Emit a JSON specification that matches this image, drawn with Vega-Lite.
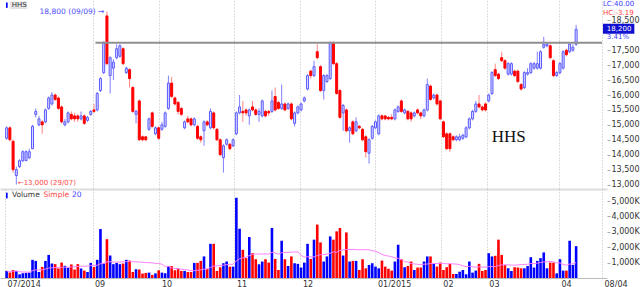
{
"$schema": "https://vega.github.io/schema/vega-lite/v6.json",
"padding": 0,
"spacing": 0,
"background": "white",
"config": {"view": {"stroke": null}, "font": "DejaVu Sans", "axis": {"labelFont": "DejaVu Sans"}},
"datasets": {"d": [
{"i":0,"o":14550,"h":14950,"l":14500,"c":14900,"v":460000},
{"i":1,"o":14900,"h":14950,"l":14450,"c":14500,"v":350000},
{"i":2,"o":14450,"h":14500,"l":13400,"c":13500,"v":520000},
{"i":3,"o":13300,"h":13600,"l":13000,"c":13500,"v":460000},
{"i":4,"o":13600,"h":13850,"l":13550,"c":13800,"v":240000},
{"i":5,"o":13800,"h":14150,"l":13750,"c":14100,"v":310000},
{"i":6,"o":13800,"h":14150,"l":13800,"c":14100,"v":330000},
{"i":7,"o":13900,"h":14200,"l":13850,"c":14100,"v":350000},
{"i":8,"o":14200,"h":15000,"l":14200,"c":14950,"v":1180000},
{"i":9,"o":15350,"h":15550,"l":15250,"c":15450,"v":1110000},
{"i":10,"o":15000,"h":15300,"l":14950,"c":15200,"v":390000},
{"i":11,"o":15100,"h":15150,"l":14700,"c":15000,"v":720000},
{"i":12,"o":15100,"h":15550,"l":15050,"c":15500,"v":1110000},
{"i":13,"o":15550,"h":15950,"l":15500,"c":15900,"v":1500000},
{"i":14,"o":15700,"h":16100,"l":15650,"c":16000,"v":940000},
{"i":15,"o":16000,"h":16050,"l":15800,"c":15850,"v":900000},
{"i":16,"o":15900,"h":15950,"l":15500,"c":15550,"v":620000},
{"i":17,"o":15600,"h":15650,"l":15050,"c":15100,"v":1000000},
{"i":18,"o":15000,"h":15200,"l":14950,"c":15100,"v":790000},
{"i":19,"o":15100,"h":15450,"l":15050,"c":15400,"v":680000},
{"i":20,"o":15350,"h":15450,"l":15150,"c":15200,"v":880000},
{"i":21,"o":15300,"h":15400,"l":15100,"c":15200,"v":550000},
{"i":22,"o":15300,"h":15350,"l":15100,"c":15200,"v":900000},
{"i":23,"o":15200,"h":15450,"l":15150,"c":15300,"v":620000},
{"i":24,"o":15300,"h":15350,"l":15000,"c":15050,"v":480000},
{"i":25,"o":15150,"h":15300,"l":15100,"c":15250,"v":390000},
{"i":26,"o":15350,"h":15500,"l":15300,"c":15450,"v":980000},
{"i":27,"o":15500,"h":15700,"l":15400,"c":15450,"v":720000},
{"i":28,"o":15500,"h":16100,"l":15450,"c":16050,"v":1180000},
{"i":29,"o":16150,"h":16600,"l":16100,"c":16550,"v":3180000},
{"i":30,"o":16750,"h":17800,"l":16700,"c":17750,"v":940000},
{"i":31,"o":18650,"h":18800,"l":17000,"c":17050,"v":2520000},
{"i":32,"o":16650,"h":17300,"l":16050,"c":17250,"v":1460000},
{"i":33,"o":16900,"h":17200,"l":16500,"c":17100,"v":900000},
{"i":34,"o":17250,"h":17700,"l":17200,"c":17550,"v":980000},
{"i":35,"o":17300,"h":17700,"l":17250,"c":17650,"v":900000},
{"i":36,"o":17550,"h":17600,"l":17000,"c":17050,"v":940000},
{"i":37,"o":16750,"h":16950,"l":16700,"c":16900,"v":1180000},
{"i":38,"o":16850,"h":16900,"l":16250,"c":16550,"v":1130000},
{"i":39,"o":16250,"h":16300,"l":15400,"c":15450,"v":390000},
{"i":40,"o":15350,"h":15500,"l":15050,"c":15450,"v":570000},
{"i":41,"o":15800,"h":15850,"l":14450,"c":14500,"v":550000},
{"i":42,"o":14600,"h":14650,"l":14450,"c":14500,"v":290000},
{"i":43,"o":14600,"h":14600,"l":14450,"c":14500,"v":330000},
{"i":44,"o":14850,"h":15250,"l":14800,"c":15200,"v":350000},
{"i":45,"o":15400,"h":15450,"l":14900,"c":14950,"v":200000},
{"i":46,"o":14700,"h":14950,"l":14650,"c":14900,"v":300000},
{"i":47,"o":14900,"h":14950,"l":14500,"c":14550,"v":500000},
{"i":48,"o":14850,"h":15100,"l":14800,"c":15000,"v":350000},
{"i":49,"o":14950,"h":15450,"l":14900,"c":15400,"v":310000},
{"i":50,"o":15550,"h":16650,"l":15500,"c":16400,"v":770000},
{"i":51,"o":16400,"h":16600,"l":15900,"c":15950,"v":770000},
{"i":52,"o":15900,"h":15950,"l":15650,"c":15700,"v":500000},
{"i":53,"o":15750,"h":15800,"l":15350,"c":15450,"v":620000},
{"i":54,"o":15550,"h":15600,"l":15300,"c":15350,"v":460000},
{"i":55,"o":14900,"h":15150,"l":14850,"c":15100,"v":460000},
{"i":56,"o":15200,"h":15300,"l":15050,"c":15100,"v":390000},
{"i":57,"o":15200,"h":15250,"l":14950,"c":15000,"v":390000},
{"i":58,"o":15000,"h":15250,"l":14950,"c":15200,"v":980000},
{"i":59,"o":14950,"h":15000,"l":14500,"c":14550,"v":980000},
{"i":60,"o":14600,"h":14650,"l":14400,"c":14500,"v":1110000},
{"i":61,"o":14800,"h":15150,"l":14300,"c":15100,"v":1400000},
{"i":62,"o":15100,"h":15150,"l":14950,"c":15000,"v":590000},
{"i":63,"o":14900,"h":15550,"l":14850,"c":15450,"v":2220000},
{"i":64,"o":15400,"h":15450,"l":14850,"c":14900,"v":2220000},
{"i":65,"o":14850,"h":14900,"l":14450,"c":14500,"v":460000},
{"i":66,"o":14500,"h":14550,"l":13950,"c":14000,"v":700000},
{"i":67,"o":13900,"h":14350,"l":13400,"c":14300,"v":960000},
{"i":68,"o":14350,"h":14550,"l":14300,"c":14500,"v":1070000},
{"i":69,"o":14350,"h":14400,"l":14150,"c":14200,"v":740000},
{"i":70,"o":14300,"h":14550,"l":14250,"c":14500,"v":740000},
{"i":71,"o":14700,"h":15450,"l":14650,"c":15400,"v":5210000},
{"i":72,"o":15400,"h":16000,"l":15350,"c":15600,"v":3200000},
{"i":73,"o":15450,"h":15800,"l":15100,"c":15400,"v":1830000},
{"i":74,"o":15500,"h":15550,"l":15300,"c":15400,"v":1290000},
{"i":75,"o":15300,"h":15550,"l":15000,"c":15500,"v":2660000},
{"i":76,"o":15600,"h":15800,"l":15450,"c":15500,"v":1610000},
{"i":77,"o":15500,"h":15550,"l":15300,"c":15350,"v":1220000},
{"i":78,"o":15350,"h":15550,"l":15100,"c":15450,"v":890000},
{"i":79,"o":15300,"h":15850,"l":15250,"c":15800,"v":1070000},
{"i":80,"o":15450,"h":15500,"l":15250,"c":15300,"v":1220000},
{"i":81,"o":15450,"h":15500,"l":15300,"c":15400,"v":1000000},
{"i":82,"o":15450,"h":16150,"l":15400,"c":15800,"v":3250000},
{"i":83,"o":15950,"h":16250,"l":15450,"c":15500,"v":1240000},
{"i":84,"o":15750,"h":15800,"l":15500,"c":15550,"v":520000},
{"i":85,"o":15550,"h":16350,"l":15500,"c":15700,"v":2420000},
{"i":86,"o":15700,"h":15750,"l":15450,"c":15500,"v":1220000},
{"i":87,"o":15550,"h":15750,"l":15500,"c":15700,"v":780000},
{"i":88,"o":15700,"h":15750,"l":15150,"c":15200,"v":1400000},
{"i":89,"o":15050,"h":15450,"l":14950,"c":15400,"v":960000},
{"i":90,"o":15400,"h":15650,"l":15350,"c":15600,"v":920000},
{"i":91,"o":15500,"h":15750,"l":15450,"c":15700,"v":680000},
{"i":92,"o":15800,"h":15950,"l":15750,"c":15900,"v":1000000},
{"i":93,"o":16200,"h":16700,"l":16150,"c":16650,"v":2220000},
{"i":94,"o":16800,"h":16850,"l":16550,"c":16650,"v":1240000},
{"i":95,"o":16650,"h":17150,"l":16600,"c":16950,"v":2490000},
{"i":96,"o":17450,"h":17700,"l":17200,"c":17250,"v":3470000},
{"i":97,"o":16950,"h":17000,"l":16100,"c":16150,"v":2310000},
{"i":98,"o":16150,"h":16700,"l":15850,"c":16650,"v":1070000},
{"i":99,"o":16450,"h":16700,"l":16400,"c":16650,"v":1400000},
{"i":100,"o":16550,"h":17800,"l":16500,"c":17750,"v":2700000},
{"i":101,"o":17750,"h":17800,"l":17000,"c":17050,"v":2490000},
{"i":102,"o":17050,"h":17100,"l":16000,"c":16050,"v":3030000},
{"i":103,"o":16150,"h":16200,"l":15200,"c":15250,"v":3250000},
{"i":104,"o":15400,"h":15700,"l":14800,"c":15650,"v":1460000},
{"i":105,"o":15500,"h":15550,"l":14750,"c":14800,"v":2960000},
{"i":106,"o":14800,"h":14950,"l":14400,"c":14900,"v":1070000},
{"i":107,"o":15100,"h":15150,"l":14650,"c":14700,"v":1110000},
{"i":108,"o":14800,"h":15250,"l":14750,"c":15100,"v":1110000},
{"i":109,"o":14950,"h":15000,"l":14850,"c":14900,"v":520000},
{"i":110,"o":14850,"h":14900,"l":14450,"c":14500,"v":1220000},
{"i":111,"o":14600,"h":14650,"l":13900,"c":14100,"v":630000},
{"i":112,"o":14050,"h":14550,"l":13700,"c":14500,"v":850000},
{"i":113,"o":14550,"h":15000,"l":14500,"c":14950,"v":960000},
{"i":114,"o":14900,"h":15150,"l":14850,"c":15100,"v":740000},
{"i":115,"o":14700,"h":15350,"l":14650,"c":15300,"v":630000},
{"i":116,"o":15300,"h":15350,"l":15150,"c":15200,"v":1130000},
{"i":117,"o":15300,"h":15300,"l":15150,"c":15200,"v":740000},
{"i":118,"o":15250,"h":15300,"l":15150,"c":15200,"v":600000},
{"i":119,"o":15250,"h":15350,"l":15150,"c":15200,"v":480000},
{"i":120,"o":15200,"h":15550,"l":15150,"c":15500,"v":1070000},
{"i":121,"o":15450,"h":15650,"l":15400,"c":15600,"v":2160000},
{"i":122,"o":15800,"h":15850,"l":15400,"c":15450,"v":1220000},
{"i":123,"o":15400,"h":15550,"l":15350,"c":15500,"v":700000},
{"i":124,"o":15450,"h":15500,"l":15150,"c":15200,"v":780000},
{"i":125,"o":15400,"h":15450,"l":15100,"c":15200,"v":1070000},
{"i":126,"o":15300,"h":15450,"l":15250,"c":15400,"v":520000},
{"i":127,"o":15500,"h":15550,"l":15350,"c":15400,"v":680000},
{"i":128,"o":15400,"h":15450,"l":15200,"c":15300,"v":680000},
{"i":129,"o":15300,"h":15550,"l":15250,"c":15500,"v":1070000},
{"i":130,"o":15500,"h":16550,"l":15450,"c":16350,"v":1400000},
{"i":131,"o":16300,"h":16350,"l":15800,"c":15850,"v":1400000},
{"i":132,"o":15900,"h":16050,"l":15850,"c":16000,"v":920000},
{"i":133,"o":16000,"h":16050,"l":15650,"c":15700,"v":740000},
{"i":134,"o":15800,"h":15850,"l":15150,"c":15200,"v":1000000},
{"i":135,"o":15100,"h":15150,"l":14550,"c":14600,"v":520000},
{"i":136,"o":14700,"h":14750,"l":14150,"c":14200,"v":700000},
{"i":137,"o":14700,"h":14750,"l":14100,"c":14200,"v":920000},
{"i":138,"o":14600,"h":14650,"l":14450,"c":14500,"v":260000},
{"i":139,"o":14500,"h":14650,"l":14450,"c":14600,"v":260000},
{"i":140,"o":14500,"h":14700,"l":14450,"c":14600,"v":410000},
{"i":141,"o":14550,"h":14700,"l":14500,"c":14650,"v":520000},
{"i":142,"o":14600,"h":14950,"l":14550,"c":14900,"v":240000},
{"i":143,"o":14900,"h":15250,"l":14850,"c":15200,"v":1070000},
{"i":144,"o":15200,"h":15500,"l":15150,"c":15450,"v":350000},
{"i":145,"o":15450,"h":15800,"l":15400,"c":15700,"v":480000},
{"i":146,"o":15700,"h":16000,"l":15550,"c":15600,"v":920000},
{"i":147,"o":15600,"h":15650,"l":15450,"c":15500,"v":460000},
{"i":148,"o":15700,"h":15750,"l":15450,"c":15500,"v":520000},
{"i":149,"o":15800,"h":16050,"l":15750,"c":16000,"v":1610000},
{"i":150,"o":16050,"h":16800,"l":16000,"c":16750,"v":1400000},
{"i":151,"o":16850,"h":17050,"l":16600,"c":16650,"v":1440000},
{"i":152,"o":16700,"h":16750,"l":16500,"c":16550,"v":2490000},
{"i":153,"o":17250,"h":17450,"l":17100,"c":17150,"v":1500000},
{"i":154,"o":17150,"h":17200,"l":16850,"c":16900,"v":850000},
{"i":155,"o":16700,"h":17100,"l":16650,"c":17050,"v":630000},
{"i":156,"o":16700,"h":17100,"l":16650,"c":17050,"v":460000},
{"i":157,"o":16800,"h":16850,"l":16600,"c":16650,"v":700000},
{"i":158,"o":16800,"h":16850,"l":16400,"c":16450,"v":680000},
{"i":159,"o":16350,"h":16400,"l":16150,"c":16200,"v":630000},
{"i":160,"o":16250,"h":16800,"l":16200,"c":16750,"v":630000},
{"i":161,"o":16700,"h":16900,"l":16650,"c":16750,"v":780000},
{"i":162,"o":16750,"h":17100,"l":16700,"c":17050,"v":1350000},
{"i":163,"o":16900,"h":17100,"l":16850,"c":17050,"v":680000},
{"i":164,"o":16900,"h":17450,"l":16850,"c":17050,"v":1110000},
{"i":165,"o":16900,"h":17500,"l":16850,"c":17450,"v":1290000},
{"i":166,"o":17600,"h":17950,"l":17550,"c":17700,"v":1660000},
{"i":167,"o":17650,"h":17750,"l":17600,"c":17700,"v":630000},
{"i":168,"o":17650,"h":17700,"l":17200,"c":17250,"v":1000000},
{"i":169,"o":17150,"h":17200,"l":16600,"c":16650,"v":1000000},
{"i":170,"o":16650,"h":16800,"l":16600,"c":16750,"v":300000},
{"i":171,"o":16750,"h":17100,"l":16700,"c":17050,"v":1220000},
{"i":172,"o":16900,"h":17500,"l":16850,"c":17450,"v":480000},
{"i":173,"o":17500,"h":17550,"l":17300,"c":17350,"v":480000},
{"i":174,"o":17450,"h":17750,"l":17400,"c":17700,"v":2420000},
{"i":175,"o":17500,"h":17700,"l":17450,"c":17600,"v":850000},
{"i":176,"o":17700,"h":18350,"l":17650,"c":18200,"v":2067330}
]},
"vconcat": [
{
 "width": 607, "height": 188,
 "data": {"name": "d"},
 "layer": [
  {"mark": {"type": "rule", "strokeWidth": 1},
   "encoding": {
    "x": {"field": "i", "type": "quantitative", "scale": {"domain": [-0.5, 184], "nice": false, "zero": false},
          "axis": {"values": [26.55, 47.22, 70.4, 90.8, 114, 134.2, 148.4, 170.7, 184], "grid": true, "gridDash": [1, 2], "gridColor": "#bdbdbd", "labels": false, "ticks": false, "domain": true, "domainColor": "#dcdcdc", "domainWidth": 2, "title": null}},
    "y": {"field": "l", "type": "quantitative", "scale": {"domain": [12850, 19150], "nice": false, "zero": false},
          "axis": {"orient": "right", "values": [13000, 13500, 14000, 14500, 15000, 15500, 16000, 16500, 17000, 17500, 18500], "format": ",d", "grid": false, "domain": false, "ticks": true, "tickSize": 3, "tickColor": "#aaaaaa", "labelFontSize": 8, "labelColor": "#333333", "labelPadding": 1, "title": null}},
    "y2": {"field": "h"},
    "color": {"condition": {"test": "datum.c >= datum.o", "value": "#8080ff"}, "value": "#ff8585"}}},
  {"mark": {"type": "bar", "width": 2, "strokeWidth": 1, "orient": "vertical"},
   "encoding": {
    "x": {"field": "i", "type": "quantitative", "scale": {"domain": [-0.5, 184], "nice": false, "zero": false},
          "axis": {"values": [26.55, 47.22, 70.4, 90.8, 114, 134.2, 148.4, 170.7, 184], "grid": true, "gridDash": [1, 2], "gridColor": "#bdbdbd", "labels": false, "ticks": false, "domain": true, "domainColor": "#dcdcdc", "domainWidth": 2, "title": null}},
    "y": {"field": "o", "type": "quantitative", "scale": {"domain": [12850, 19150], "nice": false, "zero": false},
          "axis": {"orient": "right", "values": [13000, 13500, 14000, 14500, 15000, 15500, 16000, 16500, 17000, 17500, 18500], "format": ",d", "grid": false, "domain": false, "ticks": true, "tickSize": 3, "tickColor": "#aaaaaa", "labelFontSize": 8, "labelColor": "#333333", "labelPadding": 1, "title": null}},
    "y2": {"field": "c"},
    "fill": {"condition": {"test": "datum.c >= datum.o", "value": "#dadaff"}, "value": "#ff0000"},
    "stroke": {"condition": {"test": "datum.c >= datum.o", "value": "#5a5aff"}, "value": "#ff0000"}}},
  {"data": {"values": [{"x": 27.46, "x2": 184, "y": 17755}]},
   "mark": {"type": "rule", "color": "#8f8f8f", "strokeWidth": 2},
   "encoding": {
    "x": {"field": "x", "type": "quantitative", "scale": {"domain": [-0.5, 184], "nice": false, "zero": false},
          "axis": {"values": [26.55, 47.22, 70.4, 90.8, 114, 134.2, 148.4, 170.7, 184], "grid": true, "gridDash": [1, 2], "gridColor": "#bdbdbd", "labels": false, "ticks": false, "domain": true, "domainColor": "#dcdcdc", "domainWidth": 2, "title": null}},
    "x2": {"field": "x2"},
    "y": {"field": "y", "type": "quantitative", "scale": {"domain": [12850, 19150], "nice": false, "zero": false},
          "axis": {"orient": "right", "values": [13000, 13500, 14000, 14500, 15000, 15500, 16000, 16500, 17000, 17500, 18500], "format": ",d", "grid": false, "domain": false, "ticks": true, "tickSize": 3, "tickColor": "#aaaaaa", "labelFontSize": 8, "labelColor": "#333333", "labelPadding": 1, "title": null}}}},
  {"data": {"values": [{"x": 1.0, "x2": 6.3, "y": 18880, "y2": 19130, "k": "box"}, {"x": -0.2, "x2": 0.32, "y": 18920, "y2": 19100, "k": "bar"}, {"x": 184.3, "x2": 194.0, "y": 18050, "y2": 18385, "k": "last"}]},
   "mark": {"type": "rect"},
   "encoding": {
    "x": {"field": "x", "type": "quantitative", "scale": {"domain": [-0.5, 184], "nice": false, "zero": false},
          "axis": {"values": [26.55, 47.22, 70.4, 90.8, 114, 134.2, 148.4, 170.7, 184], "grid": true, "gridDash": [1, 2], "gridColor": "#bdbdbd", "labels": false, "ticks": false, "domain": true, "domainColor": "#dcdcdc", "domainWidth": 2, "title": null}},
    "x2": {"field": "x2"},
    "y": {"field": "y", "type": "quantitative", "scale": {"domain": [12850, 19150], "nice": false, "zero": false},
          "axis": {"orient": "right", "values": [13000, 13500, 14000, 14500, 15000, 15500, 16000, 16500, 17000, 17500, 18500], "format": ",d", "grid": false, "domain": false, "ticks": true, "tickSize": 3, "tickColor": "#aaaaaa", "labelFontSize": 8, "labelColor": "#333333", "labelPadding": 1, "title": null}},
    "y2": {"field": "y2"},
    "fill": {"field": "k", "type": "nominal", "scale": {"domain": ["box", "bar", "last"], "range": ["#e3e3e3", "#0000ff", "#1010d0"]}, "legend": null}}},
  {"data": {"values": [
     {"x": 1.6, "y": 19005, "t": "HHS", "k": "leg"},
     {"x": 3.45, "y": 13040, "t": "←13,000 (29/07)", "k": "low"},
     {"x": 184.3, "y": 19035, "t": "LC:40.00", "k": "lc"},
     {"x": 184.3, "y": 18745, "t": "HC:-3.19", "k": "hc"},
     {"x": 185.5, "y": 18215, "t": "18,200", "k": "last"},
     {"x": 185.5, "y": 17945, "t": "3.41%", "k": "pct"}]},
   "mark": {"type": "text", "align": "left", "baseline": "middle", "fontSize": 7},
   "encoding": {
    "x": {"field": "x", "type": "quantitative", "scale": {"domain": [-0.5, 184], "nice": false, "zero": false},
          "axis": {"values": [26.55, 47.22, 70.4, 90.8, 114, 134.2, 148.4, 170.7, 184], "grid": true, "gridDash": [1, 2], "gridColor": "#bdbdbd", "labels": false, "ticks": false, "domain": true, "domainColor": "#dcdcdc", "domainWidth": 2, "title": null}},
    "y": {"field": "y", "type": "quantitative", "scale": {"domain": [12850, 19150], "nice": false, "zero": false},
          "axis": {"orient": "right", "values": [13000, 13500, 14000, 14500, 15000, 15500, 16000, 16500, 17000, 17500, 18500], "format": ",d", "grid": false, "domain": false, "ticks": true, "tickSize": 3, "tickColor": "#aaaaaa", "labelFontSize": 8, "labelColor": "#333333", "labelPadding": 1, "title": null}},
    "text": {"field": "t"},
    "color": {"field": "k", "type": "nominal", "scale": {"domain": ["leg", "low", "lc", "hc", "last", "pct"], "range": ["#333333", "#ff4545", "#3b3bff", "#ff4040", "#ffffff", "#3a3aff"]}, "legend": null}}},
  {"data": {"values": [{"x": 30.2, "y": 18790, "t": "18,800 (09/09) →"}]},
   "mark": {"type": "text", "align": "right", "baseline": "middle", "fontSize": 7.5, "color": "#4f4fff"},
   "encoding": {
    "x": {"field": "x", "type": "quantitative", "scale": {"domain": [-0.5, 184], "nice": false, "zero": false},
          "axis": {"values": [26.55, 47.22, 70.4, 90.8, 114, 134.2, 148.4, 170.7, 184], "grid": true, "gridDash": [1, 2], "gridColor": "#bdbdbd", "labels": false, "ticks": false, "domain": true, "domainColor": "#dcdcdc", "domainWidth": 2, "title": null}},
    "y": {"field": "y", "type": "quantitative", "scale": {"domain": [12850, 19150], "nice": false, "zero": false},
          "axis": {"orient": "right", "values": [13000, 13500, 14000, 14500, 15000, 15500, 16000, 16500, 17000, 17500, 18500], "format": ",d", "grid": false, "domain": false, "ticks": true, "tickSize": 3, "tickColor": "#aaaaaa", "labelFontSize": 8, "labelColor": "#333333", "labelPadding": 1, "title": null}},
    "text": {"field": "t"}}},
  {"data": {"values": [{"x": 155.2, "y": 14590, "t": "HHS"}]},
   "mark": {"type": "text", "align": "center", "baseline": "middle", "fontSize": 17, "font": "Liberation Serif", "color": "#111111"},
   "encoding": {
    "x": {"field": "x", "type": "quantitative", "scale": {"domain": [-0.5, 184], "nice": false, "zero": false},
          "axis": {"values": [26.55, 47.22, 70.4, 90.8, 114, 134.2, 148.4, 170.7, 184], "grid": true, "gridDash": [1, 2], "gridColor": "#bdbdbd", "labels": false, "ticks": false, "domain": true, "domainColor": "#dcdcdc", "domainWidth": 2, "title": null}},
    "y": {"field": "y", "type": "quantitative", "scale": {"domain": [12850, 19150], "nice": false, "zero": false},
          "axis": {"orient": "right", "values": [13000, 13500, 14000, 14500, 15000, 15500, 16000, 16500, 17000, 17500, 18500], "format": ",d", "grid": false, "domain": false, "ticks": true, "tickSize": 3, "tickColor": "#aaaaaa", "labelFontSize": 8, "labelColor": "#333333", "labelPadding": 1, "title": null}},
    "text": {"field": "t"}}}
 ]
},
{
 "width": 607, "height": 89,
 "data": {"name": "d"},
 "transform": [{"window": [{"op": "mean", "field": "v", "as": "ma"}], "frame": [-19, 0], "sort": [{"field": "i", "order": "ascending"}]}],
 "layer": [
  {"mark": {"type": "bar", "width": 2.6, "orient": "vertical"},
   "encoding": {
    "x": {"field": "i", "type": "quantitative", "scale": {"domain": [-0.5, 184], "nice": false, "zero": false},
          "axis": {"values": [-0.5, 26.55, 47.22, 70.4, 90.8, 114, 134.2, 148.4, 170.7, 184], "labelExpr": "datum.value < 0 ? '07/2014' : datum.value < 30 ? '09' : datum.value < 50 ? '10' : datum.value < 80 ? '11' : datum.value < 100 ? '12' : datum.value < 120 ? '01/2015' : datum.value < 140 ? '02' : datum.value < 160 ? '03' : datum.value < 180 ? '04' : '08/04'", "grid": true, "gridDash": [1, 2], "gridColor": "#bdbdbd", "ticks": false, "domain": true, "domainColor": "#bbbbbb", "labelAlign": "left", "labelOffset": 2, "labelPadding": 2, "labelFontSize": 8, "labelColor": "#333333", "labelFlush": false, "labelOverlap": false, "title": null}},
    "y": {"field": "v", "type": "quantitative", "scale": {"domain": [0, 5780000], "nice": false},
          "axis": {"orient": "right", "values": [1000000, 2000000, 3000000, 4000000, 5000000], "labelExpr": "format(datum.value/1000, ',') + 'K'", "grid": false, "domain": false, "tickSize": 3, "tickColor": "#aaaaaa", "labelFontSize": 8, "labelColor": "#333333", "labelPadding": 1, "title": null}},
    "color": {"condition": {"test": "datum.c >= datum.o", "value": "#0000ff"}, "value": "#ff0000"}}},
  {"mark": {"type": "line", "color": "#ff80ff", "strokeWidth": 1},
   "encoding": {
    "x": {"field": "i", "type": "quantitative", "scale": {"domain": [-0.5, 184], "nice": false, "zero": false},
          "axis": {"values": [-0.5, 26.55, 47.22, 70.4, 90.8, 114, 134.2, 148.4, 170.7, 184], "labelExpr": "datum.value < 0 ? '07/2014' : datum.value < 30 ? '09' : datum.value < 50 ? '10' : datum.value < 80 ? '11' : datum.value < 100 ? '12' : datum.value < 120 ? '01/2015' : datum.value < 140 ? '02' : datum.value < 160 ? '03' : datum.value < 180 ? '04' : '08/04'", "grid": true, "gridDash": [1, 2], "gridColor": "#bdbdbd", "ticks": false, "domain": true, "domainColor": "#bbbbbb", "labelAlign": "left", "labelOffset": 2, "labelPadding": 2, "labelFontSize": 8, "labelColor": "#333333", "labelFlush": false, "labelOverlap": false, "title": null}},
    "y": {"field": "ma", "type": "quantitative", "scale": {"domain": [0, 5780000], "nice": false},
          "axis": {"orient": "right", "values": [1000000, 2000000, 3000000, 4000000, 5000000], "labelExpr": "format(datum.value/1000, ',') + 'K'", "grid": false, "domain": false, "tickSize": 3, "tickColor": "#aaaaaa", "labelFontSize": 8, "labelColor": "#333333", "labelPadding": 1, "title": null}}}},
  {"data": {"values": [{"x": -0.2, "x2": 0.32, "y": 5170000, "y2": 5540000}]},
   "mark": {"type": "rect", "fill": "#0000ff"},
   "encoding": {
    "x": {"field": "x", "type": "quantitative", "scale": {"domain": [-0.5, 184], "nice": false, "zero": false},
          "axis": {"values": [-0.5, 26.55, 47.22, 70.4, 90.8, 114, 134.2, 148.4, 170.7, 184], "labelExpr": "datum.value < 0 ? '07/2014' : datum.value < 30 ? '09' : datum.value < 50 ? '10' : datum.value < 80 ? '11' : datum.value < 100 ? '12' : datum.value < 120 ? '01/2015' : datum.value < 140 ? '02' : datum.value < 160 ? '03' : datum.value < 180 ? '04' : '08/04'", "grid": true, "gridDash": [1, 2], "gridColor": "#bdbdbd", "ticks": false, "domain": true, "domainColor": "#bbbbbb", "labelAlign": "left", "labelOffset": 2, "labelPadding": 2, "labelFontSize": 8, "labelColor": "#333333", "labelFlush": false, "labelOverlap": false, "title": null}},
    "x2": {"field": "x2"},
    "y": {"field": "y", "type": "quantitative", "scale": {"domain": [0, 5780000], "nice": false},
          "axis": {"orient": "right", "values": [1000000, 2000000, 3000000, 4000000, 5000000], "labelExpr": "format(datum.value/1000, ',') + 'K'", "grid": false, "domain": false, "tickSize": 3, "tickColor": "#aaaaaa", "labelFontSize": 8, "labelColor": "#333333", "labelPadding": 1, "title": null}},
    "y2": {"field": "y2"}}},
  {"data": {"values": [
     {"x": 1.63, "y": 5358000, "t": "Volume", "k": "vol"},
     {"x": 11.4, "y": 5358000, "t": "Simple", "k": "sim"},
     {"x": 20.2, "y": 5358000, "t": "20", "k": "n"},
     {"x": 0.11, "y": 4786000, "t": "2,067,330 (239.55%)", "k": "last"}]},
   "mark": {"type": "text", "align": "left", "baseline": "middle", "fontSize": 7.5},
   "encoding": {
    "x": {"field": "x", "type": "quantitative", "scale": {"domain": [-0.5, 184], "nice": false, "zero": false},
          "axis": {"values": [-0.5, 26.55, 47.22, 70.4, 90.8, 114, 134.2, 148.4, 170.7, 184], "labelExpr": "datum.value < 0 ? '07/2014' : datum.value < 30 ? '09' : datum.value < 50 ? '10' : datum.value < 80 ? '11' : datum.value < 100 ? '12' : datum.value < 120 ? '01/2015' : datum.value < 140 ? '02' : datum.value < 160 ? '03' : datum.value < 180 ? '04' : '08/04'", "grid": true, "gridDash": [1, 2], "gridColor": "#bdbdbd", "ticks": false, "domain": true, "domainColor": "#bbbbbb", "labelAlign": "left", "labelOffset": 2, "labelPadding": 2, "labelFontSize": 8, "labelColor": "#333333", "labelFlush": false, "labelOverlap": false, "title": null}},
    "y": {"field": "y", "type": "quantitative", "scale": {"domain": [0, 5780000], "nice": false},
          "axis": {"orient": "right", "values": [1000000, 2000000, 3000000, 4000000, 5000000], "labelExpr": "format(datum.value/1000, ',') + 'K'", "grid": false, "domain": false, "tickSize": 3, "tickColor": "#aaaaaa", "labelFontSize": 8, "labelColor": "#333333", "labelPadding": 1, "title": null}},
    "text": {"field": "t"},
    "color": {"field": "k", "type": "nominal", "scale": {"domain": ["vol", "sim", "n", "last"], "range": ["#22b022", "#ff4d4d", "#ff40ff", "#333333"]}, "legend": null}}}
 ]
}
]
}
